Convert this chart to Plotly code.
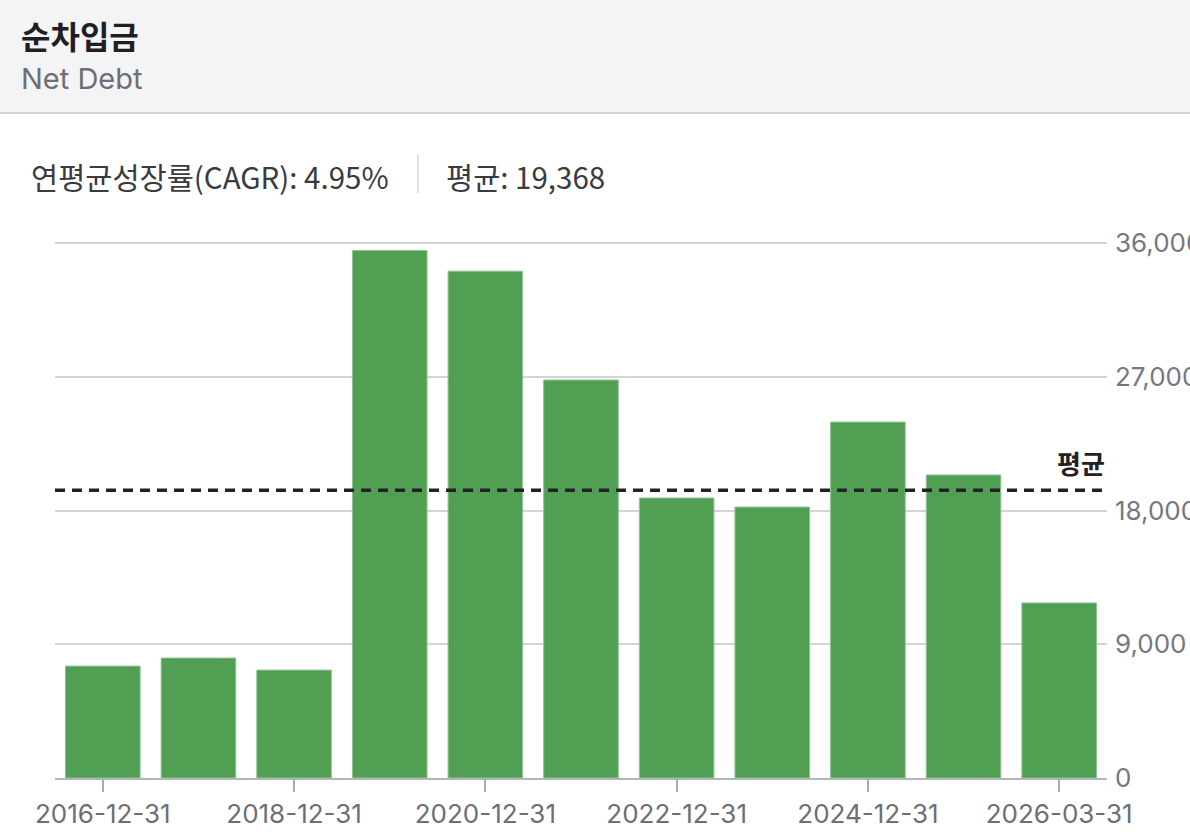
import plotly.graph_objects as go

# ---- data ----
categories = ["2016-12-31", "2017-12-31", "2018-12-31", "2019-12-31", "2020-12-31",
              "2021-12-31", "2022-12-31", "2023-12-31", "2024-12-31", "2025-12-31",
              "2026-03-31"]
net_debt = [7530, 8070, 7260, 35500, 34100, 26780, 18840, 18230, 23950, 20390, 11780]
tick_labels = ["2016-12-31", "2018-12-31", "2020-12-31", "2022-12-31", "2024-12-31", "2026-03-31"]
y_ticks = [0, 9000, 18000, 27000, 36000]
average = 19368
cagr_text = "연평균성장률(CAGR): 4.95%"
avg_text = "평균: 19,368"
title = "순차입금"
subtitle = "Net Debt"

W, H = 1190, 838
L, R, T, B = 55, 83, 238, 60
PW, PH = W - L - R, H - T - B
y_top = 36000 * PH / (778 - 243)

def px(x):
    return (x - L) / PW

def py(y):
    return (H - B - y) / PH

FONT = "Inter, Noto Sans CJK KR, sans-serif"
KFONT = "Noto Sans CJK KR, Inter, sans-serif"

fig = go.Figure()
fig.add_trace(go.Bar(
    x=categories, y=net_debt,
    marker=dict(color="#519f53", line=dict(color="#8cc48f", width=1)),
    width=0.78, hoverinfo="x+y",
))

shapes = [
    dict(type="rect", xref="paper", yref="paper", x0=px(0), x1=px(W), y0=py(0), y1=py(112),
         fillcolor="#f4f4f5", line=dict(width=0), layer="below"),
    dict(type="line", xref="paper", yref="paper", x0=px(0), x1=px(W), y0=py(113), y1=py(113),
         line=dict(color="#d2d2d7", width=2)),
    dict(type="line", xref="paper", yref="paper", x0=px(418), x1=px(418), y0=py(155), y1=py(193),
         line=dict(color="#d6d6da", width=1.5)),
    dict(type="line", xref="paper", yref="y", x0=0, x1=1, y0=average, y1=average,
         line=dict(color="#222222", width=3.5, dash="10px,7px")),
]

annotations = [
    dict(text="<b>" + title + "</b>", xref="paper", yref="paper", x=px(19), y=py(35),
         xanchor="left", yanchor="middle", showarrow=False,
         font=dict(family=KFONT, size=32, color="#1f1f23")),
    dict(text=subtitle, xref="paper", yref="paper", x=px(19), y=py(78),
         xanchor="left", yanchor="middle", showarrow=False,
         font=dict(family=FONT, size=29, color="#6e6e76")),
    dict(text=cagr_text, xref="paper", yref="paper", x=px(29), y=py(176),
         xanchor="left", yanchor="middle", showarrow=False,
         font=dict(family=KFONT, size=29.5, color="#3a3a40")),
    dict(text=avg_text, xref="paper", yref="paper", x=px(444), y=py(176),
         xanchor="left", yanchor="middle", showarrow=False,
         font=dict(family=KFONT, size=29.5, color="#3a3a40")),
    dict(text="<b>평균</b>", xref="paper", yref="y", x=1, y=average,
         xanchor="right", yanchor="bottom", yshift=7, showarrow=False,
         font=dict(family=KFONT, size=26, color="#222222")),
]

fig.update_layout(
    width=W, height=H,
    margin=dict(l=L, r=R, t=T, b=B, pad=0),
    paper_bgcolor="white", plot_bgcolor="white",
    showlegend=False,
    shapes=shapes, annotations=annotations,
    bargap=0.22,
    xaxis=dict(
        type="category", categoryorder="array", categoryarray=categories,
        tickmode="array", tickvals=tick_labels, ticktext=tick_labels,
        showgrid=False, showline=True, linecolor="#b4b4bb", linewidth=2,
        ticks="outside", ticklen=12, tickwidth=1.5, tickcolor="#a8a8b0",
        tickfont=dict(family=FONT, size=26, color="#6e6e76"),
        range=[-0.5, len(categories) - 0.5], fixedrange=True, automargin=False,
    ),
    yaxis=dict(
        side="right", range=[0, y_top], tickmode="array", tickvals=y_ticks,
        tickformat=",", showgrid=True, gridcolor="#d4d4d8", gridwidth=2,
        zeroline=False, showline=False, ticks="", ticklabelstandoff=7,
        tickfont=dict(family=FONT, size=26, color="#77777f"), fixedrange=True,
        automargin=False,
    ),
)

fig.write_html("out.html")
